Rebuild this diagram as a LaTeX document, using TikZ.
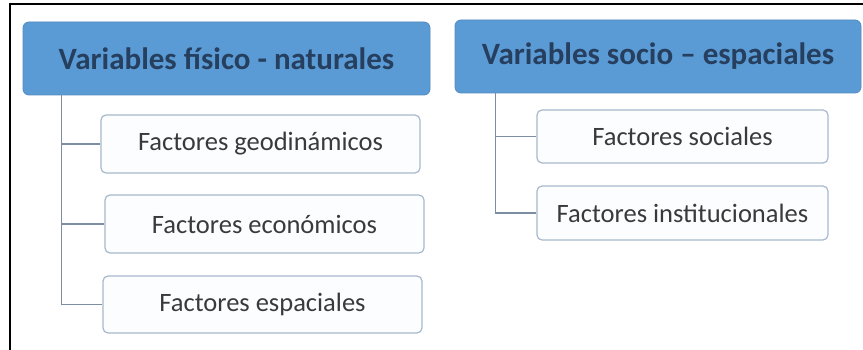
\documentclass[tikz,border=0pt]{standalone}
\usepackage{fontspec}
\setmainfont{Carlito}
\definecolor{hdrfill}{HTML}{5B9BD5}
\definecolor{hdrtext}{HTML}{263F5E}
\definecolor{kidfill}{HTML}{FBFDFF}
\definecolor{kiddraw}{HTML}{A9B9CB}
\definecolor{kidtext}{HTML}{3A3A3A}
\definecolor{linkcol}{HTML}{7D8EA3}
\tikzset{
  hdr/.style={draw=hdrfill!90!black, line width=0.8pt, fill=hdrfill, rounded corners=6pt,
    text=hdrtext, font=\fontsize{31}{36}\selectfont\bfseries, inner sep=0pt},
  kid/.style={draw=kiddraw, line width=1.2pt, fill=kidfill, rounded corners=5pt,
    text=kidtext, font=\fontsize{26.5}{31}\selectfont, inner sep=0pt},
  link/.style={draw=linkcol, line width=1.4pt}
}
\begin{document}
\begin{tikzpicture}[x=1pt,y=-1pt]
\useasboundingbox (0,0) rectangle (863,350);
\fill[white] (0,0) rectangle (863,350);
\draw[black, line width=2pt] (863,4) -- (10,4) -- (10,350);

\node[hdr, minimum width=407pt, minimum height=73pt] (B1) at (226.5,58.5) {Variables físico - naturales};
\node[hdr, minimum width=406pt, minimum height=73pt] (B2) at (658,56.5) {Variables socio – espaciales};

\node[kid, minimum width=319pt, minimum height=58pt] (C1) at (260.5,144) {Factores geodinámicos};
\node[kid, minimum width=319pt, minimum height=58pt] (C2) at (264.5,224) {Factores económicos};
\node[kid, minimum width=319pt, minimum height=57pt] (C3) at (262.5,304.5) {Factores espaciales};

\node[kid, minimum width=291pt, minimum height=53pt] (D1) at (682.5,136.5) {Factores sociales};
\node[kid, minimum width=291pt, minimum height=54pt] (D2) at (682.5,213) {Factores institucionales};

\coordinate (T1) at ([xshift=39pt]B1.south west);
\coordinate (T2) at ([xshift=41pt]B2.south west);

\draw[link] (T1) |- (C3.west);
\draw[link] (T1) |- (C1.west);
\draw[link] (T1) |- (C2.west);
\draw[link] (T2) |- (D2.west);
\draw[link] (T2) |- (D1.west);
\end{tikzpicture}
\end{document}
